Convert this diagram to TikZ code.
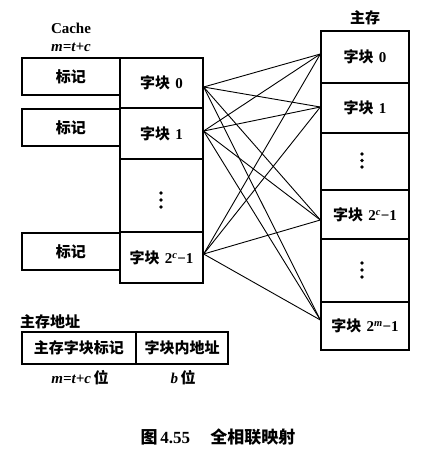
\documentclass[tikz,border=0pt]{standalone}
\usepackage{fontspec}
\setmainfont{Liberation Serif}
\newfontfamily\cjk{Noto Sans CJK SC}
\newcommand{\zk}[1]{{\cjk\bfseries 字块}\hspace{0.35em}\textbf{#1}}
\begin{document}
\begin{tikzpicture}[x=1pt,y=-1pt,
  cell/.style={draw,line width=1.3pt,minimum width=#1,inner sep=0pt,font=\fontsize{15}{17}\selectfont},
  link/.style={line width=0.9pt},
  dot/.style={fill,circle,inner sep=0pt,minimum size=3.6pt},
  lab/.style={font=\fontsize{15}{17}\selectfont\bfseries,inner sep=0pt}]
\useasboundingbox (0,0) rectangle (437,456);
% cache column
\node[cell=83pt,minimum height=50pt] (c0) at (161.5,83) {\zk{0}};
\node[cell=83pt,minimum height=51pt] (c1) at (161.5,133.5) {\zk{1}};
\node[cell=83pt,minimum height=73pt] (cd) at (161.5,195.5) {};
\node[cell=83pt,minimum height=51pt] (c2) at (161.5,257.5) {\zk{2\textsuperscript{\itshape c}−1}};
\foreach \y in {193,200,207} \node[dot] at (161,\y) {};
% tags
\node[cell=98pt,minimum height=37pt] (t0) at (71,76.5) {\cjk\bfseries 标记};
\node[cell=98pt,minimum height=37pt] (t1) at (71,127.5) {\cjk\bfseries 标记};
\node[cell=98pt,minimum height=37pt] (t2) at (71,251.5) {\cjk\bfseries 标记};
\node[lab] (cl) at (71,28) {Cache};
\node[lab] (ml) at (71,47) {\itshape m=t+c};
% main memory
\node[cell=88pt,minimum height=52pt] (m0) at (365,57) {\zk{0}};
\node[cell=88pt,minimum height=50pt] (m1) at (365,108) {\zk{1}};
\node[cell=88pt,minimum height=57pt] (md1) at (365,161.5) {};
\node[cell=88pt,minimum height=49pt] (m2) at (365,214.5) {\zk{2\textsuperscript{\itshape c}−1}};
\node[cell=88pt,minimum height=63pt] (md2) at (365,270.5) {};
\node[cell=88pt,minimum height=48pt] (m3) at (365,326) {\zk{2\textsuperscript{\itshape m}−1}};
\foreach \y in {154,160.5,167,263,270,277} \node[dot] at (362,\y) {};
\node[lab] (mt) at (365,18) {\cjk 主存};
% connection points
\coordinate (p0) at ([yshift=-4pt]c0.east);
\coordinate (p1) at ([yshift=2.5pt]c1.east);
\coordinate (p2) at ([yshift=3.5pt]c2.east);
\coordinate (q0) at ([yshift=3pt]m0.west);
\coordinate (q1) at ([yshift=1pt]m1.west);
\coordinate (q2) at ([yshift=-5.5pt]m2.west);
\coordinate (q3) at ([yshift=6pt]m3.west);
\foreach \a in {p0,p1,p2}{
  \foreach \b in {q0,q1,q2,q3}{
    \draw[link] (\a) -- (\b);
  }
}
% address
\node[lab,anchor=west] (al) at (20,322) {\cjk 主存地址};
\node[cell=114pt,minimum height=32pt] (a1) at (79,348) {\cjk\bfseries 主存字块标记};
\node[cell=92pt,minimum height=32pt] (a2) at (182,348) {\cjk\bfseries 字块内地址};
\node[lab] (b1) at (80,378) {\itshape m=t+c\,\upshape\cjk 位};
\node[lab] (b2) at (183,378) {\itshape b\,\upshape\cjk 位};
\node[font=\fontsize{17}{19}\selectfont,inner sep=0pt] (cap) at (218,437) {{\cjk\bfseries 图}\,\textbf{4.55}\hspace{1.2em}{\cjk\bfseries 全相联映射}};
\end{tikzpicture}
\end{document}
